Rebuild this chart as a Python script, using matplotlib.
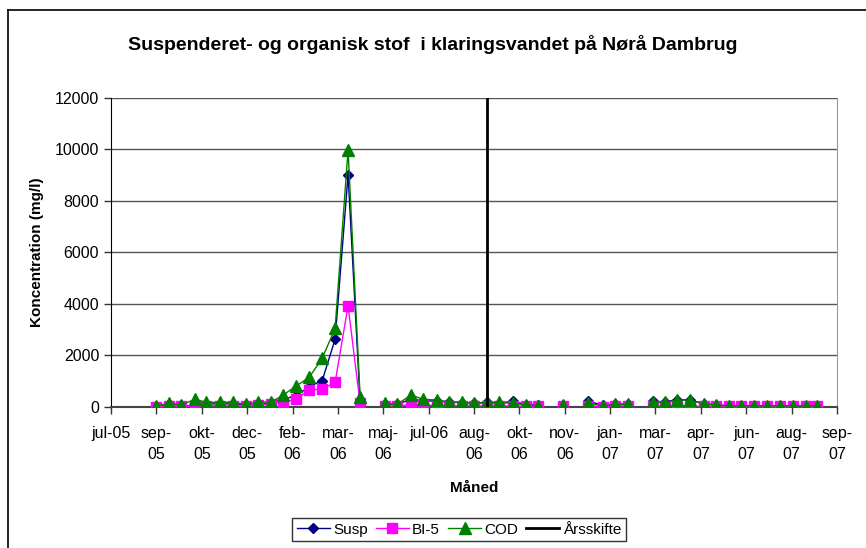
import matplotlib.pyplot as plt
from matplotlib.lines import Line2D

plt.rcParams['font.family'] = ['Liberation Sans', 'DejaVu Sans']

# dage fra jul-05 (akse-start); None = manglende maaling (hul i kurven)
dag = [49, 63, 76, 91, 103, 118, 132, 146, 159, 173, 186, 200, 214, 228, 242, 256, 269,
       None,
       296, 309, 324, 337, 352, 365, 379, 392, 406, 419, 434, 448, 461,
       None, 488,
       None, 515, 531, 544, 558,
       None, 585, 598, 611, 625, 640, 653, 667, 680, 694, 708, 722, 736, 750, 762]

susp = [20, 100, 60, 20, 120, 120, 130, 60, 100, 150, 300, 440, 790, 1020, 2630, 9020, 200,
        None,
        120, 100, 300, 250, 220, 200, 170, 140, 180, 130, 240, 80, 90,
        None, 90,
        None, 240, 60, 110, 110,
        None, 220, 200, 280, 280, 130, 90, 50, 50, 50, 50, 50, 50, 50, 50]
bi5 = [10, 40, 20, 40, 40, 50, 40, 30, 60, 115, 180, 310, 660, 690, 960, 3930, 140,
       None,
       40, 30, 100, 80, 40, 40, 40, 40, 40, 40, 40, 20, 30,
       None, 20,
       None, 30, 10, 40, 40,
       None, 20, 20, 20, 20, 30, 30, 20, 20, 20, 20, 20, 20, 20, 20]
cod = [50, 140, 90, 300, 180, 180, 180, 100, 200, 180, 466, 815, 1150, 1890, 3050, 9980, 400,
       None,
       140, 100, 466, 300, 270, 200, 180, 140, 180, 180, 140, 80, 50,
       None, 80,
       None, 140, 40, 100, 100,
       None, 200, 180, 270, 270, 115, 80, 40, 40, 40, 40, 40, 40, 40, 40]

aarsskifte = 406
maaned = ['jul-05', 'sep-\n05', 'okt-\n05', 'dec-\n05', 'feb-\n06', 'mar-\n06', 'maj-\n06',
          'jul-06', 'aug-\n06', 'okt-\n06', 'nov-\n06', 'jan-\n07', 'mar-\n07', 'apr-\n07',
          'jun-\n07', 'aug-\n07', 'sep-\n07']
step = 49


def nanify(v):
    return [float('nan') if a is None else a for a in v]


fig = plt.figure(figsize=(8.66, 5.48), dpi=100)
ax = fig.add_axes([0.1282, 0.2573, 0.8383, 0.5639])

xx = nanify(dag)
ax.plot(xx, nanify(susp), color='#000080', marker='D', ms=5, lw=1, label='Susp', zorder=3)
ax.plot(xx, nanify(bi5), color='#FF00FF', marker='s', ms=7, lw=1, label='BI-5', zorder=4)
ax.plot(xx, nanify(cod), color='#008000', marker='^', ms=8, lw=1, label='COD', zorder=5)
ax.plot([aarsskifte, aarsskifte], [0, 12000], color='black', lw=2, label='Årsskifte', zorder=6)

ax.set_xlim(0, step * 16)
ax.set_ylim(0, 12000)
ax.set_xticks([step * i for i in range(17)])
ax.set_xticklabels(maaned, fontsize=11.5, va='top', linespacing=1.45)
ax.set_yticks(range(0, 12001, 2000))
ax.set_yticklabels([str(v) for v in range(0, 12001, 2000)], fontsize=11.5)
ax.tick_params(axis='both', direction='out', length=5, width=1, color='#333333')
ax.tick_params(axis='x', pad=9)
ax.grid(axis='y', color='#555555', lw=1)
ax.set_axisbelow(True)
ax.spines['top'].set_visible(False)
ax.spines['right'].set_color('#999999')
ax.spines['left'].set_color('black')
ax.spines['bottom'].set_color('#444444')
ax.spines['bottom'].set_linewidth(1.5)

ax.set_xlabel('Måned', fontsize=11, fontweight='bold', labelpad=14)
ax.set_ylabel('Koncentration (mg/l)', fontsize=11, fontweight='bold', labelpad=8)
fig.text(0.5, 0.918, 'Suspenderet- og organisk stof  i klaringsvandet på Nørå Dambrug',
         ha='center', va='center', fontsize=14, fontweight='bold')

leg = ax.legend(loc='upper left', bbox_to_anchor=(292 / 866, 1 - 518 / 548),
                bbox_transform=fig.transFigure, ncol=4, fontsize=11, frameon=True,
                fancybox=False, edgecolor='black', handlelength=2.2, handletextpad=0.2,
                columnspacing=0.5, borderpad=0.3, borderaxespad=0)
leg.get_frame().set_linewidth(1)

# ramme om diagrammet
fig.add_artist(Line2D([8 / 866, 8 / 866], [0, 1 - 10 / 548], color='black', lw=1.2,
                      transform=fig.transFigure))
fig.add_artist(Line2D([8 / 866, 1], [1 - 10 / 548, 1 - 10 / 548], color='black', lw=1.2,
                      transform=fig.transFigure))

fig.savefig('out.png', dpi=100)
